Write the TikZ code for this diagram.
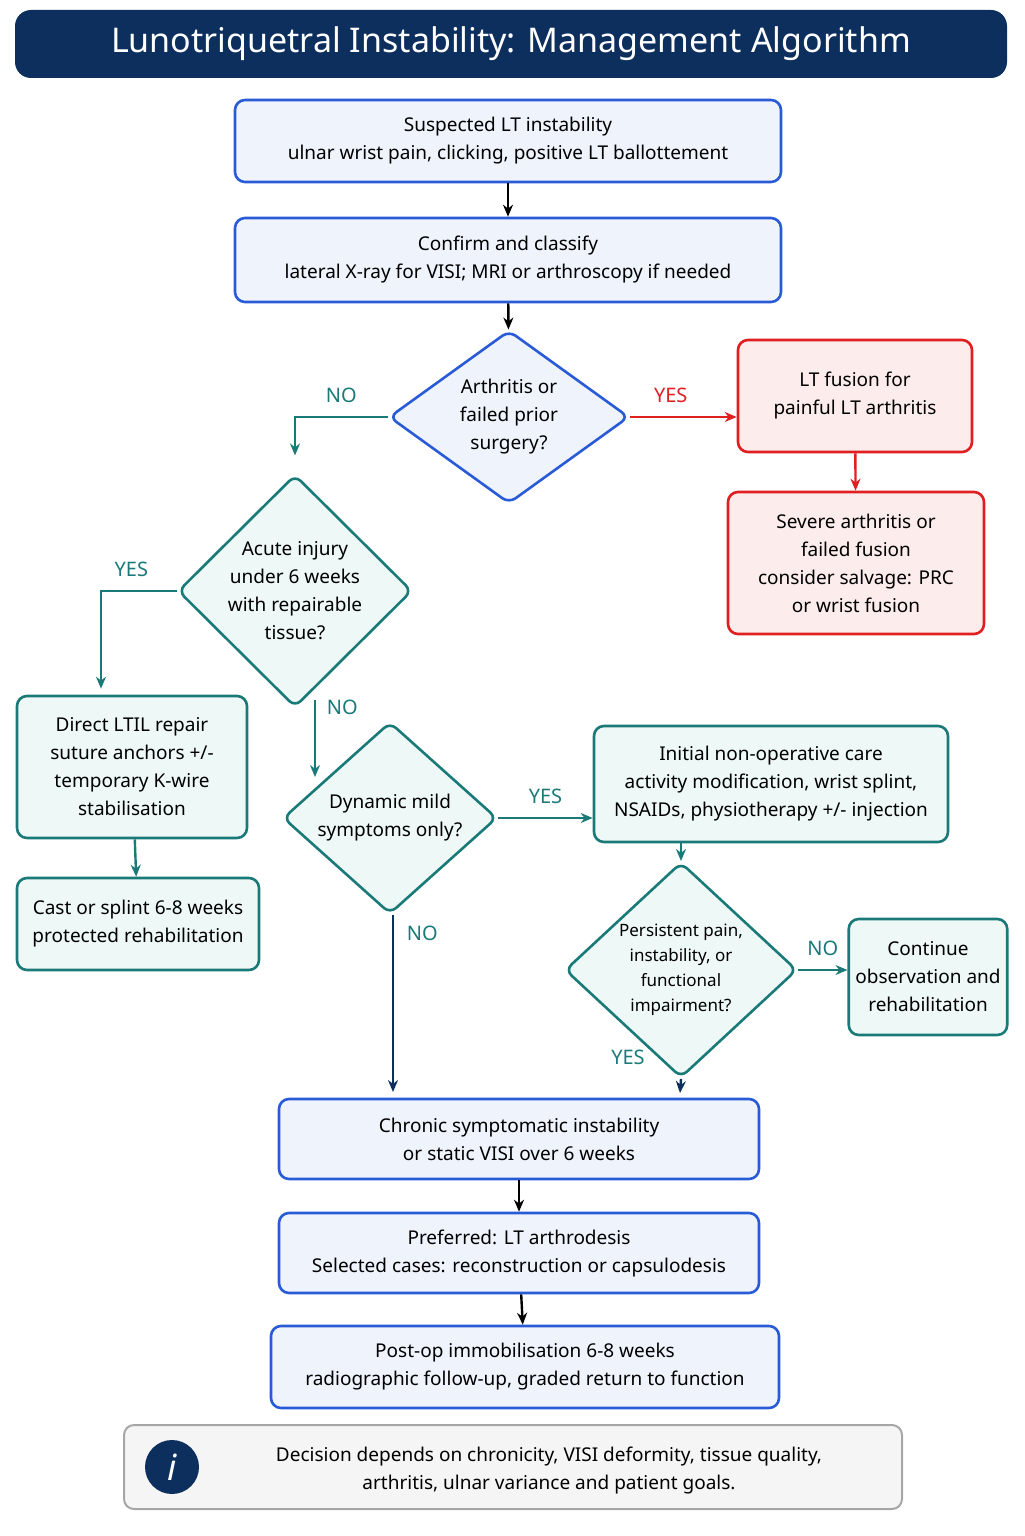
\documentclass[tikz,border=0pt]{standalone}
\usepackage{fontspec}
\setmainfont{Noto Sans}
\usetikzlibrary{shapes.geometric}
\usetikzlibrary{arrows.meta}

\definecolor{navy}{HTML}{0D2F5E}
\definecolor{blueline}{HTML}{2A5BD7}
\definecolor{bluefill}{HTML}{EEF3FC}
\definecolor{redline}{HTML}{E02020}
\definecolor{redfill}{HTML}{FDECEC}
\definecolor{teal}{HTML}{1A7A78}
\definecolor{tealfill}{HTML}{EEF8F7}

\tikzset{
    bluebox/.style={draw=blueline, fill=bluefill, line width=1.3pt, rounded corners=5pt, align=center, font=\fontsize{9.5}{14}\selectfont},
    redbox/.style={draw=redline, fill=redfill, line width=1.3pt, rounded corners=5pt, align=center, font=\fontsize{9.5}{14}\selectfont\bfseries},
    tealbox/.style={draw=teal, fill=tealfill, line width=1.3pt, rounded corners=5pt, align=center, font=\fontsize{9.5}{14}\selectfont\bfseries},
    choice/.style={diamond, line width=1.3pt, rounded corners=4pt, align=center, inner sep=0pt, font=\fontsize{9.5}{14}\selectfont\bfseries},
    arr/.style={-{Stealth[length=6pt, width=5pt]}, line width=1.2pt},
    yn/.style={font=\fontsize{10}{12}\selectfont\bfseries}
}

\begin{document}
\begin{tikzpicture}[x=0.5pt, y=-0.5pt]
    \useasboundingbox (0,0) rectangle (1024,1536);

    % Title
    \node[fill=navy, rounded corners=8pt, minimum width=496pt, minimum height=34pt, text=white,
          font=\fontsize{17}{20}\selectfont\bfseries] (title) at (511,44) {Lunotriquetral Instability: Management Algorithm};

    % Main column
    \node[bluebox, minimum width=273pt, minimum height=41pt] (suspect) at (508,141)
        {\textbf{Suspected LT instability}\\ulnar wrist pain, clicking, positive LT ballottement};
    \node[bluebox, minimum width=273pt, minimum height=42pt] (confirm) at (508,260)
        {\textbf{Confirm and classify}\\lateral X-ray for VISI; MRI or arthroscopy if needed};
    \node[choice, draw=blueline, fill=bluefill, minimum width=120pt, minimum height=80pt] (arthritis) at (509,417)
        {Arthritis or\\failed prior\\surgery?};

    % Arthritis branch
    \node[redbox, minimum width=117pt, minimum height=56pt] (fusion) at (855,396)
        {LT fusion for\\painful LT arthritis};
    \node[redbox, minimum width=128pt, minimum height=71pt] (salvage) at (856,563)
        {Severe arthritis or\\failed fusion\\consider salvage: PRC\\or wrist fusion};

    % Acute branch
    \node[choice, draw=teal, fill=tealfill, minimum width=117pt, minimum height=110pt] (acute) at (295,591)
        {Acute injury\\under 6 weeks\\with repairable\\tissue?};
    \node[tealbox, minimum width=115pt, minimum height=71pt] (repair) at (132,767)
        {Direct LTIL repair\\suture anchors +/-\\temporary K-wire\\stabilisation};
    \node[tealbox, minimum width=121pt, minimum height=46pt] (cast) at (138,924)
        {Cast or splint 6-8 weeks\\protected rehabilitation};

    % Dynamic branch
    \node[choice, draw=teal, fill=tealfill, minimum width=107pt, minimum height=82pt] (dynamic) at (390,818)
        {Dynamic mild\\symptoms only?};
    \node[tealbox, minimum width=177pt, minimum height=58pt] (nonop) at (771,784)
        {Initial non-operative care\\\mdseries activity modification, wrist splint,\\\mdseries NSAIDs, physiotherapy +/- injection};
    \node[choice, draw=teal, fill=tealfill, minimum width=116pt, minimum height=91pt, font=\fontsize{8.5}{12.5}\selectfont\bfseries] (persist) at (681,970)
        {Persistent pain,\\instability, or\\functional\\impairment?};
    \node[tealbox, minimum width=79pt, minimum height=58pt] (observe) at (928,977)
        {Continue\\observation and\\rehabilitation};

    % Surgical pathway
    \node[bluebox, minimum width=240pt, minimum height=40pt] (chronic) at (519,1139)
        {\textbf{Chronic symptomatic instability}\\\textbf{or static VISI over 6 weeks}};
    \node[bluebox, minimum width=240pt, minimum height=40pt] (preferred) at (519,1253)
        {\textbf{Preferred: LT arthrodesis}\\Selected cases: reconstruction or capsulodesis};
    \node[bluebox, minimum width=254pt, minimum height=41pt] (postop) at (525,1367)
        {\textbf{Post-op immobilisation 6-8 weeks}\\radiographic follow-up, graded return to function};

    % Info note
    \node[draw=gray!70, fill=gray!8, line width=1pt, rounded corners=5pt, minimum width=389pt, minimum height=42pt] (info) at (513,1467) {};
    \node[circle, fill=navy, minimum size=27pt, text=white, font=\fontsize{18}{18}\selectfont\bfseries\itshape] (icon) at (172,1467) {i};
    \node[align=center, font=\fontsize{9.5}{14}\selectfont\bfseries] (note) at (549,1470)
        {Decision depends on chronicity, VISI deformity, tissue quality,\\arthritis, ulnar variance and patient goals.};

    % Connectors
    \coordinate (dyn-in) at (315,777);
    \coordinate (d2-out) at (315,700);
    \coordinate (chr-left) at (393,1092);
    \coordinate (chr-right) at (680,1093);
    \draw[arr] (suspect) -- (confirm);
    \draw[arr] (confirm) -- (arthritis);
    \draw[arr, redline] (arthritis.east) -- (fusion.west |- arthritis.east) node[pos=0.38, above=3pt, yn] {YES};
    \draw[arr, redline] (fusion) -- (salvage);
    \draw[arr, teal] (arthritis.west) -| node[pos=0.25, above=3pt, yn] {NO} ([yshift=9pt]acute.north);
    \draw[arr, teal] (acute.west) -| node[pos=0.3, above=3pt, yn] {YES} ([yshift=3pt]repair.north -| 101,0);
    \draw[arr, teal] (d2-out) -- node[pos=0.1, right=2pt, yn] {NO} (dyn-in);
    \draw[arr, teal] (repair) -- (cast);
    \draw[arr, teal] (dynamic.east) -- node[above=3pt, yn] {YES} (nonop.west |- dynamic.east);
    \draw[arr, navy] (dynamic.south -| chr-left) -- node[pos=0.1, right=3pt, yn, text=teal] {NO} (chr-left);
    \draw[arr, teal] (nonop.south -| persist.north) -- (persist.north);
    \draw[arr, teal] (persist.east) -- node[above=3pt, yn] {NO} (observe.west |- persist.east);
    \draw[arr, navy] (persist.south) -- (chr-right);
    \node[yn, text=teal] (yes4) at (628,1057) {YES};
    \draw[arr] (chronic) -- (preferred);
    \draw[arr] (preferred) -- (postop);
\end{tikzpicture}
\end{document}
